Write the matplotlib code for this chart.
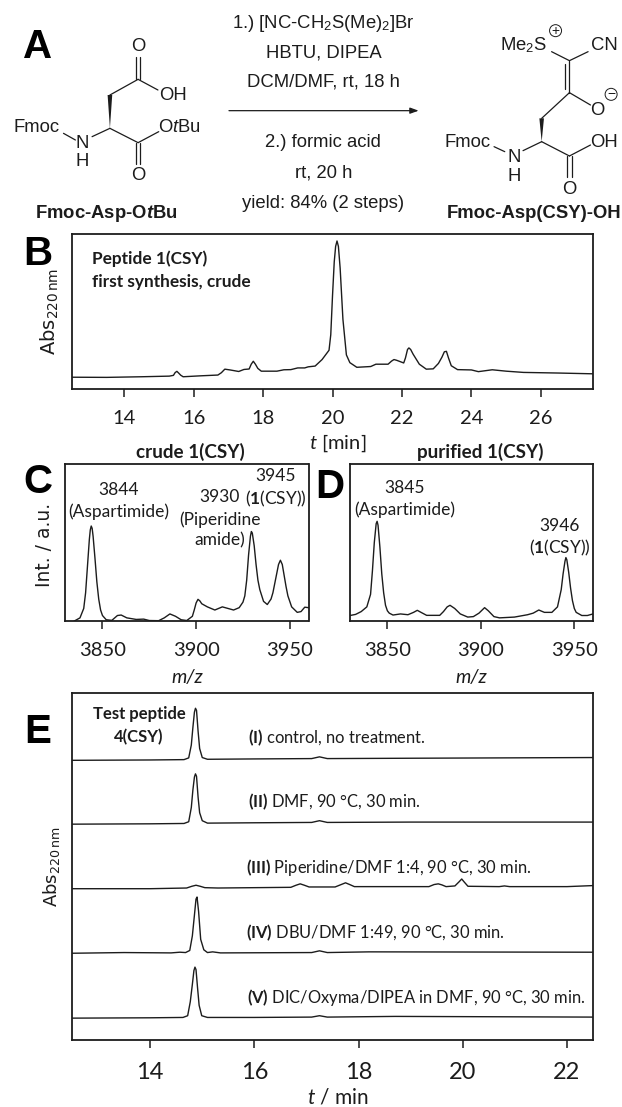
import matplotlib
matplotlib.use("Agg")
import matplotlib.pyplot as plt
from matplotlib.patches import Polygon, Circle

plt.rcParams.update({
    'font.family': ['Lato', 'DejaVu Sans'],
    'mathtext.fontset': 'custom',
    'mathtext.rm': 'Liberation Sans',
    'mathtext.it': 'Lato:italic',
    'mathtext.bf': 'Lato:bold',
    'mathtext.cal': 'Liberation Sans:italic',
    'mathtext.bfit': 'Liberation Sans:italic:bold',
})

W, H = 622, 1107
INK = '#1c1c1c'

# ---- panel B chromatogram ----
b_t = [12.5,13.5,14.5,15.3,15.42,15.47,15.52,15.57,15.63,15.7,16.2,16.7,16.8,16.9,17.05,17.3,17.45,17.6,17.66,17.72,17.78,17.85,17.95,
       18.4,18.6,18.8,19.0,19.2,19.3,19.5,19.7,19.9,19.95,20.0,20.05,20.09,20.13,20.17,20.22,20.3,20.4,20.5,20.7,21.1,21.25,
       21.6,21.7,21.77,21.85,22.05,22.1,22.16,22.2,22.25,22.32,22.5,22.7,22.9,23.05,23.15,23.22,23.28,23.34,23.42,23.6,24.0,24.2,24.6,25.0,25.5,26.5,27.5]
b_y = [7.6,7.5,7.9,8.3,8.8,10.6,11.4,10.3,8.9,7.9,8.5,9.0,10.5,12.8,12.3,11.3,12.6,12.9,16,17.9,16,13.3,11.5,
       11.5,12.4,12.5,13.6,13.6,14.3,14.8,19,25,35,60,82,92,95.5,92,78,45,22,17,14,14.5,16,
       16,18,19,18.5,16.8,20,25.5,26.5,25.5,22.5,16,12.8,13,16.5,20.5,24,24.3,20,15,12.5,12.3,11.2,12.4,11.5,10.7,10.3,9.8]

# ---- panels C and D mass spectra ----
c_mz = [3835,3838,3840,3841,3842,3843,3843.5,3844,3844.5,3845,3846,3847,3848,3849,3850,3852,3855,3858,3860,3863,3868,3872,3875,3880,3883,3886,3889,
        3892,3895,3898,3899,3900,3901,3902,3903,3906,3910,3914,3917,3920,3923,3925,3926,3927,3928,3929,3929.5,3930,3931,3932,3933,3934,3936,3938,3940,
        3941,3943,3944,3945,3946,3947,3948,3949,3951,3954,3956,3958,3960]
c_y = [0,2,8,18,35,52,58,60.5,59,54,40,25,14,7,3.5,0.8,0.4,3.5,3.8,2,1,1.2,0.3,0.2,2,4.5,3,
       0.8,0.3,3,7,11.5,13.8,12.8,11,9,7,9,8,7,8.5,12,16,26,42,54,57,56,48,36,26,20,12.5,10.5,14,
       18,30,36,38.7,36,29,22,16,9,5.5,6,8.8,8.5]
d_mz = [3830,3833,3836,3839,3841,3842,3843,3844,3844.5,3845,3846,3847,3848,3849,3850,3851,3853,3857,3861,3864,3866,3868,3871,3878,3880,3882,3883.5,
        3886,3889,3893,3896,3899,3902,3904,3907,3910,3918,3925,3928,3931,3934,3938,3941,3943,3944,3945,3945.5,3946,3947,3948,3949,3950,3951,3954,3957,3960]
d_y = [3.5,4.2,6,9,17,32,50,62,63.5,61,47,30,18,10,6.5,5,3.8,4.5,4,5.5,6.8,5.5,3.6,3.6,6,9,10,
       8,4.5,2.5,2.8,5,8.5,6.5,2.8,2.0,2.5,4,5,7,5.5,5.5,9,20,30,38,40.4,39,31,21,13,8,5.5,3.5,3.5,4.5]

# ---- panel E chromatograms ----
e1_t = [12.5,14.0,14.65,14.74,14.79,14.82,14.85,14.87,14.89,14.92,14.95,15.0,15.1,16.0,17.1,17.25,17.4,19.0,22.5]
e1_y = [80.6,80.7,80.8,81.3,85,90,94.5,95.6,95.0,89,84,81.4,80.9,81.0,81.1,81.6,81.1,81.2,81.4]
e2_t = [12.5,14.0,14.65,14.74,14.79,14.82,14.85,14.87,14.89,14.92,14.95,15.0,15.1,16.0,17.1,17.25,17.4,19.0,22.5]
e2_y = [62.2,62.3,62.4,62.9,67,72,75.8,76.7,76,70,65.5,63.2,62.5,62.6,62.7,63.2,62.7,62.8,62.8]
e3_t = [12.5,14.0,14.7,14.8,14.88,14.96,15.05,15.3,16.7,16.8,16.88,16.96,17.05,17.55,17.65,17.75,17.83,17.92,19.35,19.45,19.53,19.6,19.68,19.85,19.93,19.98,20.03,20.1,20.7,20.8,20.9,22.0,22.5]
e3_y = [43.6,43.6,43.8,44.3,44.6,44.3,43.9,43.8,44.0,44.6,45.0,44.6,44.1,44.1,44.7,45.3,44.8,44.2,44.2,44.8,45.0,44.7,44.2,44.4,45.6,46.4,45.5,44.3,44.2,44.4,44.2,44.2,44.5]
e4_t = [12.5,13.5,14.4,14.57,14.68,14.76,14.81,14.85,14.88,14.9,14.93,14.97,15.03,15.1,15.2,15.35,17.1,17.25,17.4,18.2,22.5]
e4_y = [25,25.2,25.1,25.3,25.2,25.8,30,36,40.6,41.2,37,29,26,25.2,25.4,25.1,25.2,25.7,25.2,25.4,25.3]
e5_t = [12.5,14.0,14.63,14.72,14.77,14.81,14.84,14.86,14.88,14.91,14.94,14.99,15.1,16.0,17.1,17.25,17.4,18.7,22.5]
e5_y = [6.3,6.4,6.5,7,11,16,20,21,20.3,15,10,7,6.5,6.5,6.6,7,6.6,6.8,6.6]
e_series = [(e1_t, e1_y), (e2_t, e2_y), (e3_t, e3_y), (e4_t, e4_y), (e5_t, e5_y)]

b_ticks = [14, 16, 18, 20, 22, 24, 26]
ms_ticks = [3850, 3900, 3950]
e_ticks = [14, 16, 18, 20, 22]

fig = plt.figure(figsize=(W/100, H/100), dpi=100)
LINE = dict(color=INK, lw=1.0, solid_joinstyle='round')


def panel(x0, x1, y0, y1, xlim, ylim, ticks, size, pad):
    ax = fig.add_axes([x0/W, 1-y1/H, (x1-x0)/W, (y1-y0)/H])
    ax.set_xlim(*xlim)
    ax.set_ylim(*ylim)
    ax.set_yticks([])
    ax.set_xticks(ticks)
    ax.tick_params(axis='x', length=6, width=1.1, color=INK, labelsize=size, pad=pad, labelcolor=INK)
    for s in ax.spines.values():
        s.set_linewidth(1.3)
        s.set_color(INK)
    return ax


axb = panel(72, 593, 234, 389, (12.5, 27.5), (0, 100), b_ticks, 14.5, 9)
axb.plot(b_t, b_y, **LINE)
axc = panel(65, 308.5, 464, 621, (3830, 3960), (0, 100), ms_ticks, 14.5, 9)
axc.plot(c_mz, c_y, **LINE)
axd = panel(350, 593, 464, 621, (3830, 3960), (0, 100), ms_ticks, 14.5, 9)
axd.plot(d_mz, d_y, **LINE)
axe = panel(72, 593, 693, 1040, (12.5, 22.5), (0, 100), e_ticks, 17, 10)
for tt, yy in e_series:
    axe.plot(tt, yy, **LINE)

# overlay in pixel coordinates for schematic and annotations
ov = fig.add_axes([0, 0, 1, 1], zorder=5)
ov.set_xlim(0, W)
ov.set_ylim(H, 0)
ov.axis('off')


def T(x, y, s, size=12, ha='center', **kw):
    kw.setdefault('color', INK)
    ov.text(x, y, s, fontsize=size, ha=ha, va='center', **kw)


for x, y, s in [(38, 47, 'A'), (38, 254, 'B'), (38, 482, 'C'), (330, 487, 'D'), (38, 732, 'E')]:
    T(x, y, s, size=29, family='Liberation Sans', fontweight='bold', color='black')

# panel texts
T(92, 259, 'Peptide 1(CSY)', 12.4, ha='left', fontweight='bold')
T(92, 282, 'first synthesis, crude', 12.4, ha='left', fontweight='bold')
T(338, 443, r'$\mathit{t}$ [min]', 14.5)
T(190, 452, 'crude 1(CSY)', 13.6, fontweight='bold')
T(480, 452, 'purified 1(CSY)', 13.6, fontweight='bold')
T(119, 490, '3844', 12.5)
T(119, 512, '(Aspartimide)', 12.5)
T(220, 497, '3930', 12.5)
T(220, 520, '(Piperidine', 12.5)
T(220, 540, 'amide)', 12.5)
T(276, 476, '3945', 12.5)
T(276, 499, r'($\mathbf{1}$(CSY))', 12.5)
T(405, 488, '3845', 12.5)
T(405, 510, '(Aspartimide)', 12.5)
T(560, 526, '3946', 12.5)
T(560, 548, r'($\mathbf{1}$(CSY))', 12.5)
T(187, 677, 'm/z', 14, style='italic')
T(471, 677, 'm/z', 14, style='italic')
T(139, 714, 'Test peptide', 12, fontweight='bold')
T(139, 737, '4(CSY)', 12, fontweight='bold')
T(248, 738, r'$\mathbf{(I)}$ control, no treatment.', 11.9, ha='left')
T(248, 802, r'$\mathbf{(II)}$ DMF, 90 °C, 30 min.', 11.9, ha='left')
T(246, 867, r'$\mathbf{(III)}$ Piperidine/DMF 1:4, 90 °C, 30 min.', 11.9, ha='left')
T(246, 933, r'$\mathbf{(IV)}$ DBU/DMF 1:49, 90 °C, 30 min.', 11.9, ha='left')
T(247, 998, r'$\mathbf{(V)}$ DIC/Oxyma/DIPEA in DMF, 90 °C, 30 min.', 11.9, ha='left')
T(338, 1098, r'$\mathit{t}$ / min', 15)

for x, y, s, size in [(50, 311, r'Abs$_{220\,\mathrm{nm}}$', 14), (52, 867, r'Abs$_{220\,\mathrm{nm}}$', 13),
                      (44, 545, 'Int. / a.u.', 13.5)]:
    ov.text(x, y, s, fontsize=size, rotation=90, ha='center', va='center', color=INK,
            family='DejaVu Sans', math_fontfamily='dejavusans')

# reaction scheme: coordinates given in crop units
def P(zx, zy):
    return zx/2.52, zy/3


def bond(a, b, lw=0.9):
    (x0, y0), (x1, y1) = P(*a), P(*b)
    ov.plot([x0, x1], [y0, y1], color=INK, lw=lw, solid_capstyle='round')


def wedge(tip, base, half=2.3):
    (x0, y0), (x1, y1) = P(*tip), P(*base)
    ov.add_patch(Polygon([(x0, y0), (x1-half, y1), (x1+half, y1)], closed=True, color=INK, lw=0))


def chem(zx, zy, s, size=13.3, ha='center', **kw):
    x, y = P(zx, zy)
    T(x, y, s, size, ha=ha, family='Liberation Sans', **kw)


# left molecule
chem(348, 140, 'O')
bond((342, 172), (342, 238)); bond((354, 172), (354, 238))
bond((348, 238), (398, 270)); chem(435, 288, 'OH')
bond((348, 238), (277, 285))
wedge((277, 385), (277, 285))
bond((277, 385), (232, 410))
chem(208, 432, 'N'); chem(208, 486, 'H')
chem(92, 383, 'Fmoc')
bond((160, 400), (190, 420))
bond((277, 385), (348, 428))
bond((348, 428), (400, 395)); chem(452, 383, r'O$\mathcal{t}$Bu')
bond((342, 428), (342, 492)); bond((354, 428), (354, 492))
chem(348, 525, 'O')
chem(268, 642, r'Fmoc-Asp-O$\mathbfit{t}$Bu', 13.3, fontweight='bold')

# arrow and conditions
ov.annotate('', xy=P(1055, 332), xytext=P(577, 332),
            arrowprops=dict(arrowstyle='-|>,head_length=0.5,head_width=0.18', color=INK, lw=0.9,
                            shrinkA=0, shrinkB=0))
chem(815, 70, r'1.) [NC-CH$_2$S(Me)$_2$]Br')
chem(815, 160, 'HBTU, DIPEA')
chem(815, 245, 'DCM/DMF, rt, 18 h')
chem(815, 428, '2.) formic acid')
chem(815, 518, 'rt, 20 h')
chem(815, 610, 'yield: 84% (2 steps)')

# right molecule
chem(1320, 135, r'Me$_2$S')
chem(1522, 135, 'CN')
for zx, zy, s in [(1400, 92, '+'), (1540, 283, '\u2212')]:
    x, y = P(zx, zy)
    ov.add_patch(Circle((x, y), 6, fill=False, ec=INK, lw=0.7))
    T(x, y, s, 10, family='Liberation Sans')
bond((1435, 182), (1390, 155)); bond((1435, 182), (1482, 155))
bond((1435, 182), (1435, 278)); bond((1423, 192), (1423, 268))
bond((1435, 278), (1488, 315)); chem(1505, 332, 'O')
bond((1435, 278), (1365, 355))
wedge((1365, 425), (1365, 355))
bond((1365, 425), (1318, 452))
chem(1295, 472, 'N'); chem(1295, 530, 'H')
chem(1178, 428, 'Fmoc')
bond((1245, 440), (1272, 455))
bond((1365, 425), (1435, 468))
bond((1435, 468), (1488, 435)); chem(1522, 428, 'OH')
bond((1429, 468), (1429, 532)); bond((1441, 468), (1441, 532))
chem(1435, 570, 'O')
chem(1345, 642, 'Fmoc-Asp(CSY)-OH', 13.3, fontweight='bold')

fig.savefig('out.png', dpi=100)
